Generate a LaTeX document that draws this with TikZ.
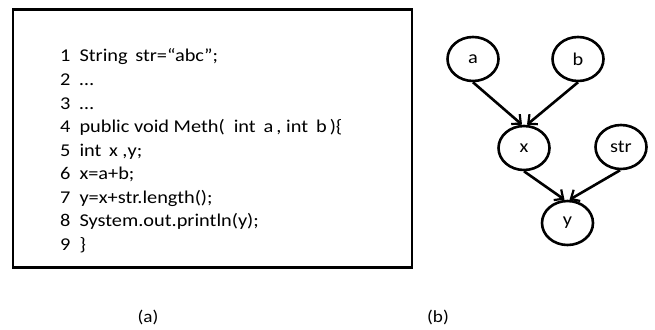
\documentclass[tikz,border=0pt]{standalone}
\usepackage{fontspec}
\setmainfont{Carlito}[FakeStretch=1.13]
\usetikzlibrary{shapes.geometric,arrows.meta}
\begin{document}
\begin{tikzpicture}[x=1pt,y=-1pt,
  codeline/.style={anchor=base west,inner sep=0pt,font=\fontsize{18}{21}\selectfont},
  var/.style={ellipse,draw,line width=2.6pt,minimum width=51pt,minimum height=44pt,inner sep=0pt,font=\fontsize{18}{21}\selectfont},
  dep/.style={line width=2.6pt,-{Straight Barb[length=7pt,width=13pt,line width=2.2pt]}},
  captext/.style={anchor=base,inner sep=0pt,font=\fontsize{17}{20}\selectfont}]
\useasboundingbox (0,0) rectangle (655,329);
\node[draw,line width=2.8pt,minimum width=399pt,minimum height=258pt,inner sep=0pt] (box) at (212.5,138.5) {};
\node[codeline] (l1) at (60,62) {1\enspace String\, str=“abc”;};
\node[codeline] (l2) at (60,85.5) {2\enspace …};
\node[codeline] (l3) at (60,109) {3\enspace …};
\node[codeline] (l4) at (60,132.5) {4\enspace public void Meth(\hspace{9pt}int\hspace{8pt}a\,, int\hspace{8pt}b\,)\{};
\node[codeline] (l5) at (60,156) {5\enspace int\, x ,y;};
\node[codeline] (l6) at (60,179.5) {6\enspace x=a+b;};
\node[codeline] (l7) at (60,203) {7\enspace y=x+str.length();};
\node[codeline] (l8) at (60,226.5) {8\enspace System.out.println(y);};
\node[codeline] (l9) at (60,250) {9\enspace \}};
\node[var] (a) at (473,59) {a};
\node[var] (b) at (578,59) {b};
\node[var] (x) at (524,148) {x};
\node[var] (str) at (621,147) {str};
\node[var] (y) at (567.5,223) {y};
\draw[dep] (a.south) -- ([xshift=-2pt]x.north);
\draw[dep] (b.south) -- ([xshift=3pt]x.north);
\draw[dep] (x.south) -- ([xshift=-3pt]y.north);
\draw[dep] ([xshift=-1pt]str.south) -- ([xshift=2pt]y.north);
\node[captext] (capa) at (148,322) {(a)};
\node[captext] (capb) at (438,322) {(b)};
\end{tikzpicture}
\end{document}
